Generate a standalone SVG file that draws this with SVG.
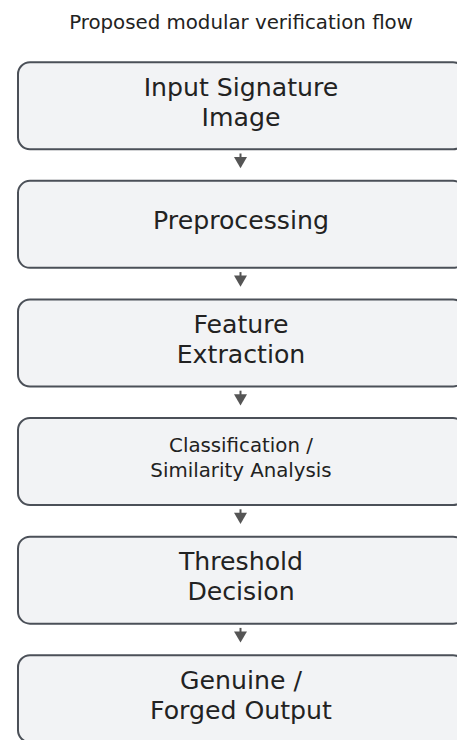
<svg xmlns="http://www.w3.org/2000/svg" width="457" height="740" viewBox="0 0 457 740">
<style>
.box{fill:#f2f3f5;stroke:#4b5058;stroke-width:2}
.t{font-family:"DejaVu Sans",sans-serif;fill:#222;text-anchor:middle}
.big{font-size:25.2px}
.sm{font-size:19.8px}
.title{font-family:"DejaVu Sans",sans-serif;font-size:19.8px;fill:#222;text-anchor:middle}
.con line{stroke:#555;stroke-width:2}
.con polygon{fill:#555}
</style>
<rect width="457" height="740" fill="#ffffff"/>
<text class="title" x="241" y="28.5">Proposed modular verification flow</text>
<g id="n1"><rect class="box" x="18" y="62.25" width="447" height="87" rx="12"/>
<text class="t big" x="241" y="95.5">Input Signature</text><text class="t big" x="241" y="126">Image</text></g>
<g id="n2"><rect class="box" x="18" y="180.85" width="447" height="87" rx="12"/>
<text class="t big" x="241" y="229">Preprocessing</text></g>
<g id="n3"><rect class="box" x="18" y="299.45" width="447" height="87" rx="12"/>
<text class="t big" x="241" y="332.5">Feature</text><text class="t big" x="241" y="362.5">Extraction</text></g>
<g id="n4"><rect class="box" x="18" y="418.05" width="447" height="87" rx="12"/>
<text class="t sm" x="241" y="452.3">Classification /</text><text class="t sm" x="241" y="476.5">Similarity Analysis</text></g>
<g id="n5"><rect class="box" x="18" y="536.65" width="447" height="87" rx="12"/>
<text class="t big" x="241" y="570">Threshold</text><text class="t big" x="241" y="600">Decision</text></g>
<g id="n6"><rect class="box" x="18" y="655.25" width="447" height="87" rx="12"/>
<text class="t big" x="241" y="688.5">Genuine /</text><text class="t big" x="241" y="718.5">Forged Output</text></g>
<g class="con" id="connectors">
<g><line x1="240.5" y1="153.5" x2="240.5" y2="158"/><polygon points="234,157 247,157 240.5,168.2"/></g>
<g transform="translate(0,118.6)"><line x1="240.5" y1="153.5" x2="240.5" y2="158"/><polygon points="234,157 247,157 240.5,168.2"/></g>
<g transform="translate(0,237.2)"><line x1="240.5" y1="153.5" x2="240.5" y2="158"/><polygon points="234,157 247,157 240.5,168.2"/></g>
<g transform="translate(0,355.8)"><line x1="240.5" y1="153.5" x2="240.5" y2="158"/><polygon points="234,157 247,157 240.5,168.2"/></g>
<g transform="translate(0,474.4)"><line x1="240.5" y1="153.5" x2="240.5" y2="158"/><polygon points="234,157 247,157 240.5,168.2"/></g>
</g>
</svg>
